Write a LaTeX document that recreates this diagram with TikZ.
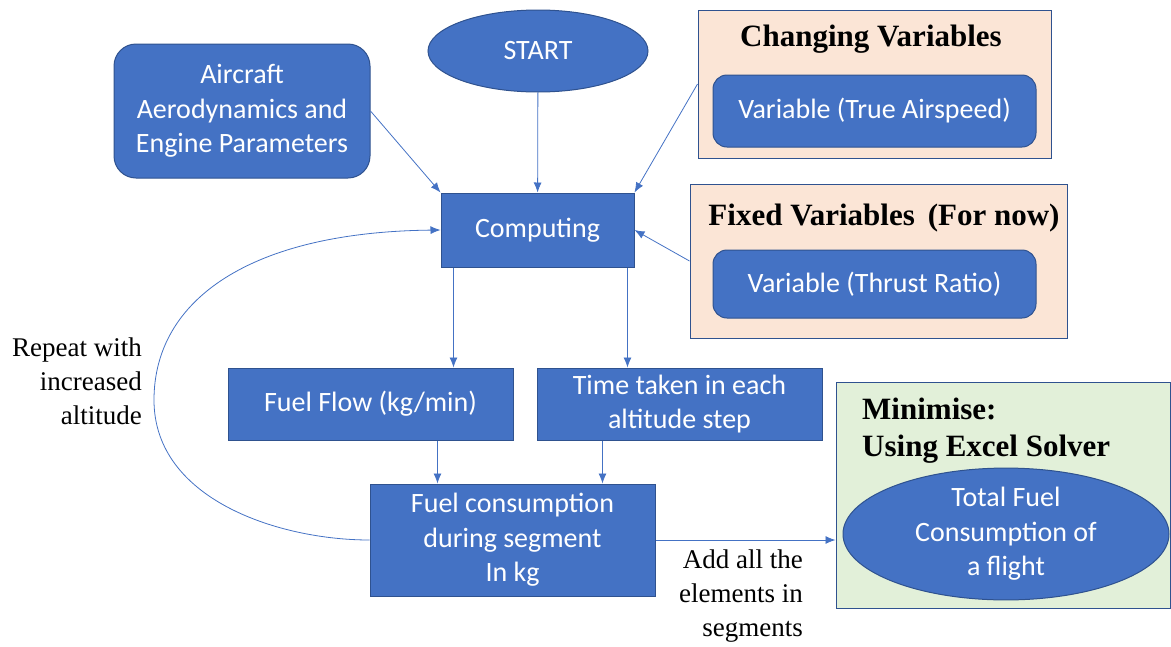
\documentclass[tikz,border=0pt]{standalone}
\usepackage{fontspec}
\setmainfont{Liberation Serif}
\setsansfont{Carlito}
\usetikzlibrary{positioning,shapes.geometric,arrows.meta}
\definecolor{blu}{HTML}{4472C4}
\definecolor{bdr}{HTML}{2F528F}
\definecolor{pch}{HTML}{FBE5D6}
\definecolor{grn}{HTML}{E2F0D9}
\newcommand\bxfont{\sffamily\fontsize{28}{34.5}\selectfont}
\newcommand\lbfont{\rmfamily\fontsize{27}{34}\selectfont}
\newcommand\hdfont{\rmfamily\bfseries\fontsize{31}{37}\selectfont}
\tikzset{
 bx/.style
  = {rectangle, draw=bdr, fill=blu, text=white, line width=1pt, inner sep=0pt,
     align=center, font=\bxfont},
 rbx/.style
  = {bx, rounded corners=14pt},
 el/.style
  = {ellipse, draw=bdr, fill=blu, text=white, line width=1pt, inner sep=0pt,
     align=center, font=\bxfont},
 pk/.style
  = {rectangle, draw=bdr, fill=pch, line width=1pt, inner sep=0pt},
 gr/.style
  = {rectangle, draw=bdr, fill=grn, line width=1pt, inner sep=0pt},
 l/.style
  = {draw=blu, line width=0.8pt, -{Latex[length=10pt,width=8pt]}},
 hd/.style
  = {font=\hdfont, inner sep=0pt},
 lbl/.style
  = {align=right, font=\lbfont, inner sep=0pt}
}
\begin{document}
\begin{tikzpicture}[x=1pt,y=-1pt]
    \useasboundingbox (0,0) rectangle (1171,646);

    \node [rbx, rounded corners=22pt, minimum width=256pt, minimum height=134pt] (aircraft) at (242,111)
      {Aircraft\\Aerodynamics and\\Engine Parameters};
    \node [el, minimum width=220pt, minimum height=82pt] (start) at (538,51) {START};
    \node [pk, minimum width=353pt, minimum height=148pt] (changing) at (874.5,84) {};
    \node [hd] (changingtitle) at (871,39) {Changing Variables};
    \node [rbx, minimum width=323pt, minimum height=72pt] (airspeed) at (874.5,111) {Variable (True Airspeed)};
    \node [pk, minimum width=377pt, minimum height=154pt] (fixed) at (878.5,261) {};
    \node [hd] (fixedtitle) at (884,218) {Fixed Variables\, (For now)};
    \node [rbx, minimum width=323pt, minimum height=68pt] (thrust) at (874.5,284) {Variable (Thrust Ratio)};
    \node [bx, minimum width=193pt, minimum height=74pt] (computing) at (537.5,230) {Computing};
    \node [bx, minimum width=285pt, minimum height=72pt] (fuelflow) at (370.5,404) {Fuel Flow (kg/min)};
    \node [bx, minimum width=285pt, minimum height=72pt, right = 23pt of fuelflow] (timetaken)
      {Time taken in each\\altitude step};
    \node [bx, minimum width=285pt, minimum height=112pt] (fuelcons) at (512.5,540)
      {Fuel consumption\\during segment\\In kg};
    \node [gr, minimum width=334pt, minimum height=226pt] (solver) at (1003,495) {};
    \node [hd, align=left, anchor=west] (solvertitle) at (862,431) {Minimise:\\Using Excel Solver};
    \node [el, minimum width=326pt, minimum height=90pt] (total) at (1006,534)
      {Total Fuel\\Consumption of\\a flight};
    \node [lbl, anchor=east] (repeat) at (142,381) {Repeat with\\increased\\altitude};
    \node [lbl, anchor=east] (addall) at (803,596) {Add all the\\elements in\\segments};

    \coordinate (ffout) at ([xshift=13pt]computing.south west);
    \coordinate (ttout) at ([xshift=-7pt]computing.south east);
    \coordinate (ffin) at ([xshift=68pt]fuelcons.north west);
    \coordinate (ttin) at ([xshift=-53pt]fuelcons.north east);

    \path [l] (aircraft.east) -- (computing.north west);
    \path [l] (start) -- (computing);
    \path [l] (changing.west) -- (computing.north east);
    \path [l] (fixed.west) -- (computing.east);
    \path [l] (ffout) -- (ffout |- fuelflow.north);
    \path [l] (ttout) -- (ttout |- timetaken.north);
    \path [l] (ffin |- fuelflow.south) -- (ffin);
    \path [l] (ttin |- timetaken.south) -- (ttin);
    \path [l] (fuelcons.east) -- (fuelcons.east -| solver.west);
    \path [l] (fuelcons.west) .. controls (280,540) and (154,500) .. (154,400)
      .. controls (154,300) and (250,232) .. (computing.west);

\end{tikzpicture}
\end{document}
